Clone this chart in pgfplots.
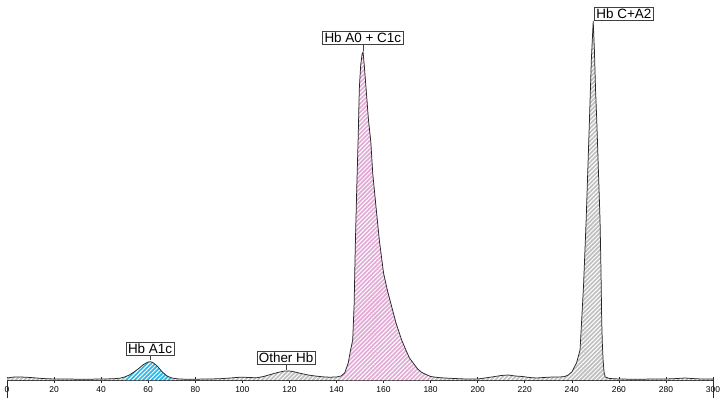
\documentclass[border=0pt]{standalone}
\usepackage{fontspec}
\setmainfont{Liberation Sans}
\usepackage{pgfplots}
\usepackage{pgfplotstable}
\pgfplotsset{compat=1.18}
\usetikzlibrary{patterns.meta}
\definecolor{cyanf}{RGB}{45,185,235}
\definecolor{pinkf}{RGB}{226,172,214}
\definecolor{grayf}{RGB}{192,192,192}
\definecolor{curve}{RGB}{40,40,40}
\pgfplotstableread{
x h
0 2
3 3
6 3
10 2.5
15 1.5
20 1
25 1
30 0.8
35 0.8
40 1
45 1.2
48 1.8
50 3
52 5
54 8
56 11.5
58 15.5
60 18
61 18.2
62 17.5
64 13.5
66 8
68 4
70 2
73 1
76 0.8
80 0.8
85 1
90 1.2
95 2
98 2.6
100 2.8
103 2.5
106 2.2
109 3.5
112 5.5
115 7.5
118 9
120 9
122 8.2
125 6.5
128 5
131 4
134 3.2
137 2.8
140 3
142 4
143.5 7
145 17
146 30
146.9 40
147.5 75
148 134
148.6 190
149.2 240
149.7 291
150.3 315
150.9 326
151.3 328
151.8 315
152.6 291
153.6 260
154.6 238
155.4 207
156.8 173
158.2 140
160 107
161.6 90
163.5 73
165.3 57
167.7 40
169.5 30
171 22
172.6 17
174.5 11
176 8
177.6 6
180 3.5
183 2.5
186 2
190 1.5
195 1
200 1
203 2
206 3
210 4.5
213 5
216 4
219 3.5
222 2.5
225 2
228 2.5
232 3
235 3
237 3.5
238.5 5
240 8
242 17
243.5 30
244.2 60
245 95
246.1 160
246.8 210
247.5 260
248.3 320
249.1 359
249.6 330
250.1 290
250.6 260
251.3 210
252.0 160
252.4 110
252.7 60
253.0 35
253.3 20
253.7 8
254.2 3
256 1.5
260 1
265 0.8
270 0.8
275 1
280 1
285 1.5
288 2
291 1.5
295 1
300 1
}\chromdata
\tikzset{
  hatch/.style={postaction={pattern={Lines[angle=45,distance=3bp,line width=1bp]}, pattern color=white}},
  lbl/.style={draw=black!75, line width=0.6pt, fill=white, inner sep=1.8bp, font=\fontsize{13.5}{16}\selectfont},
}
\begin{document}
\begin{tikzpicture}
\useasboundingbox (-7bp,-18bp) rectangle (717bp,380bp);
\begin{axis}[
  scale only axis,
  width=706bp, height=380bp,
  xmin=0, xmax=300, ymin=0, ymax=380,
  axis x line=bottom, axis y line=none,
  x axis line style={-, line width=0.8pt, black!85},
  xtick={0,20,...,300},
  tick align=center,
  major tick length=6bp,
  every tick/.style={black!85, line width=0.6pt},
  extra x ticks={0,300},
  extra x tick labels={},
  extra x tick style={tick align=outside, major tick length=18bp},
  ticklabel style={font=\fontsize{8.5}{10}\selectfont},
  /pgf/number format/assume math mode=true,
  clip=false,
]
\addplot[draw=none, fill=grayf, hatch] table[x=x,y=h] {\chromdata} \closedcycle;
\addplot[draw=none, fill=cyanf, hatch, restrict x to domain=49:70] table[x=x,y=h] {\chromdata} \closedcycle;
\addplot[draw=none, fill=pinkf, hatch, restrict x to domain=142:182] table[x=x,y=h] {\chromdata} \closedcycle;
\addplot[curve, line width=0.75pt] table[x=x,y=h] {\chromdata};
\draw[black!75, line width=0.6pt] (axis cs:60.8,19.5) -- (axis cs:60.8,24);
\node[lbl, anchor=south] at (axis cs:60.8,24) {Hb A1c};
\draw[black!75, line width=0.6pt] (axis cs:118.6,10) -- (axis cs:118.6,15);
\node[lbl, anchor=south] at (axis cs:118.6,15) {Other Hb};
\draw[black!75, line width=0.6pt] (axis cs:151.2,329) -- (axis cs:151.2,335);
\node[lbl, anchor=south] at (axis cs:151.2,335) {Hb A0 + C1c};
\node[lbl, anchor=south west] at (axis cs:249.6,359) {Hb C+A2};
\end{axis}
\end{tikzpicture}
\end{document}
